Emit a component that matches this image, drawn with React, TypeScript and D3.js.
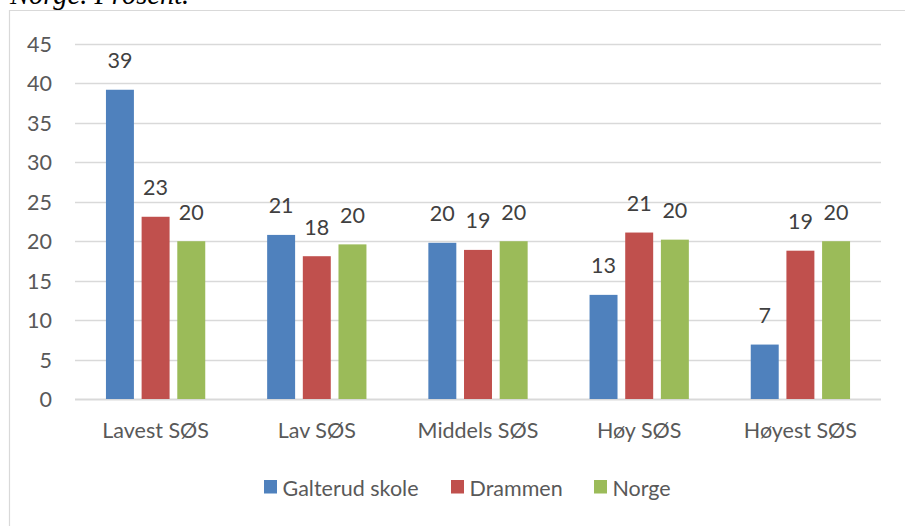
import { useEffect, useRef } from 'react'
import * as d3 from 'd3'

const categories = ['Lavest SØS', 'Lav SØS', 'Middels SØS', 'Høy SØS', 'Høyest SØS']
const seriesNames = ['Galterud skole', 'Drammen', 'Norge']
const galterud = [39.2, 20.8, 19.8, 13.2, 6.9]
const drammen = [23.1, 18.1, 18.9, 21.1, 18.8]
const norge = [20.0, 19.6, 20.0, 20.2, 20.0]
const colors = ['#4f81bd', '#c0504d', '#9bbb59']
const yTicks = [0, 5, 10, 15, 20, 25, 30, 35, 40, 45]

const FONT = 'Lato, "Open Sans", sans-serif'
const FS = 21.5

export default function App() {
  const svgRef = useRef<SVGSVGElement>(null)

  useEffect(() => {
    const svg = d3.select(svgRef.current)
    svg.selectAll('*').remove()

    const width = 905
    const height = 526
    const margin = { left: 75, right: 24, top: 44, bottom: 127 }
    const plotBottom = height - margin.bottom

    const values = [galterud, drammen, norge]
    const rows = categories.map((c, i) => ({
      cat: c,
      vals: seriesNames.map((s, j) => ({ name: s, value: values[j][i], idx: j })),
    }))

    // kategori-akse
    const x0 = d3
      .scaleBand()
      .domain(categories)
      .range([margin.left, width - margin.right])
      .paddingInner(0)
      .paddingOuter(0)

    // serier innenfor hver kategori
    const groupW = x0.bandwidth() * 0.616
    const x1 = d3
      .scaleBand()
      .domain(seriesNames)
      .range([(x0.bandwidth() - groupW) / 2, (x0.bandwidth() + groupW) / 2])
      .paddingInner(0.216)
      .paddingOuter(0)

    const y = d3.scaleLinear().domain([0, 45]).range([plotBottom, margin.top])

    svg.attr('width', width).attr('height', height)

    // tittel (avkuttet øverst)
    svg
      .append('text')
      .attr('x', 10)
      .attr('y', 4)
      .attr('font-family', '"Liberation Serif", "DejaVu Serif", serif')
      .attr('font-style', 'italic')
      .attr('font-size', 28.5)
      .attr('fill', '#000')
      .text('Norge. Prosent.')

    // ramme
    svg
      .append('path')
      .attr('d', `M9.5,${height}V10.5H${width}`)
      .attr('fill', 'none')
      .attr('stroke', '#d9d9d9')
      .attr('stroke-width', 1.2)

    // rutenett
    svg
      .append('g')
      .selectAll('line')
      .data(yTicks)
      .enter()
      .append('line')
      .attr('x1', margin.left)
      .attr('x2', width - margin.right)
      .attr('y1', (d) => Math.round(y(d)) + 0.5)
      .attr('y2', (d) => Math.round(y(d)) + 0.5)
      .attr('stroke', '#d9d9d9')
      .attr('stroke-width', (d) => (d === 0 ? 2 : 1.5))

    // y-etiketter
    svg
      .append('g')
      .selectAll('text')
      .data(yTicks)
      .enter()
      .append('text')
      .attr('x', 52)
      .attr('y', (d) => y(d) + 8)
      .attr('text-anchor', 'end')
      .attr('font-family', FONT)
      .attr('font-size', FS)
      .attr('fill', '#595959')
      .text((d) => d)

    // søyler
    const groups = svg
      .append('g')
      .selectAll('g')
      .data(rows)
      .enter()
      .append('g')
      .attr('transform', (d) => `translate(${x0(d.cat)},0)`)

    groups
      .selectAll('rect')
      .data((d) => d.vals)
      .enter()
      .append('rect')
      .attr('x', (d) => x1(d.name)!)
      .attr('y', (d) => y(d.value))
      .attr('width', x1.bandwidth())
      .attr('height', (d) => plotBottom - y(d.value))
      .attr('fill', (d) => colors[d.idx])

    groups
      .selectAll('text')
      .data((d) => d.vals)
      .enter()
      .append('text')
      .attr('x', (d) => x1(d.name)! + x1.bandwidth() / 2)
      .attr('y', (d) => y(d.value) - 21.5)
      .attr('text-anchor', 'middle')
      .attr('font-family', FONT)
      .attr('font-size', FS)
      .attr('fill', '#404040')
      .text((d) => Math.round(d.value))

    // kategori-etiketter
    svg
      .append('g')
      .selectAll('text')
      .data(categories)
      .enter()
      .append('text')
      .attr('x', (d) => x0(d)! + x0.bandwidth() / 2)
      .attr('y', 437.5)
      .attr('text-anchor', 'middle')
      .attr('font-family', FONT)
      .attr('font-size', FS)
      .attr('fill', '#595959')
      .text((d) => d)

    // forklaring
    const legendX = [264, 451, 594]
    const legend = svg
      .append('g')
      .selectAll('g')
      .data(seriesNames)
      .enter()
      .append('g')
      .attr('transform', (d, i) => `translate(${legendX[i]},480)`)

    legend
      .append('rect')
      .attr('width', 13)
      .attr('height', 13.5)
      .attr('fill', (d, i) => colors[i])

    legend
      .append('text')
      .attr('x', 18.5)
      .attr('y', 15.5)
      .attr('font-family', FONT)
      .attr('font-size', FS)
      .attr('fill', '#595959')
      .text((d) => d)
  }, [])

  return (
    <div style={{ position: 'absolute', left: 0, top: 0 }}>
      <svg ref={svgRef} style={{ display: 'block', background: '#fff' }}></svg>
    </div>
  )
}
